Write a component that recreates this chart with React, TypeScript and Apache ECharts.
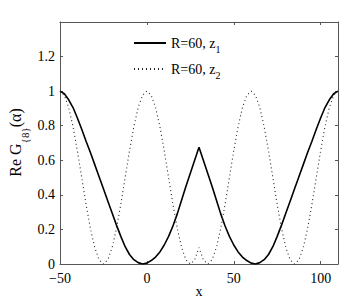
import React, { useEffect, useRef } from "react";
import * as echarts from "echarts";

const xTicks = [-50, 0, 50, 100];
const yTickLabels = ["0", "0.2", "0.4", "0.6", "0.8", "1", "1.2"];

const xs = [
  -50, -47.5, -45, -42.5, -40, -37.5, -35, -32.5, -30, -27.5, -25, -22.5, -20, -17.5, -15, -12.5, -10, -7.5, -5, -2.5,
  0, 2.5, 5, 7.5, 10, 12.5, 15, 17.5, 20, 22.5, 25, 27.5, 30, 32.5, 35, 37.5, 40, 42.5, 45, 47.5, 50, 52.5, 55,
  57.5, 60, 62.5, 65, 67.5, 70, 72.5, 75, 77.5, 80, 82.5, 85, 87.5, 90, 92.5, 95, 97.5, 100, 102.5, 105, 107.5, 110,
];

const z1 = [
  1.0, 0.985, 0.95, 0.905, 0.845, 0.78, 0.71, 0.645, 0.575, 0.505, 0.435, 0.365, 0.295, 0.225, 0.16, 0.1, 0.055, 0.025,
  0.008, 0.0, 0.005, 0.02, 0.04, 0.07, 0.11, 0.16, 0.22, 0.29, 0.37, 0.45, 0.525, 0.6, 0.675, 0.6, 0.525, 0.45, 0.37,
  0.29, 0.22, 0.16, 0.11, 0.07, 0.04, 0.02, 0.005, 0.0, 0.008, 0.025, 0.055, 0.1, 0.16, 0.225, 0.295, 0.365, 0.435,
  0.505, 0.575, 0.645, 0.71, 0.78, 0.845, 0.905, 0.95, 0.985, 1.0,
];

const z2 = [
  1.0, 0.976, 0.905, 0.794, 0.655, 0.5, 0.345, 0.206, 0.095, 0.024, 0.0, 0.024, 0.095, 0.206, 0.345, 0.5, 0.655, 0.794,
  0.905, 0.976, 1.0, 0.976, 0.905, 0.794, 0.655, 0.5, 0.345, 0.206, 0.095, 0.024, 0.0, 0.024, 0.095, 0.024, 0.0, 0.024,
  0.095, 0.206, 0.345, 0.5, 0.655, 0.794, 0.905, 0.976, 1.0, 0.976, 0.905, 0.794, 0.655, 0.5, 0.345, 0.206, 0.095,
  0.024, 0.0, 0.024, 0.095, 0.206, 0.345, 0.5, 0.655, 0.794, 0.905, 0.976, 1.0,
];

const seriesNames = ["z1", "z2"];
const legendMain = "R=60, z";
const legendSubs = ["1", "2"];

const yLabelMain = "Re G";
const yLabelSub = "{8}";
const yLabelTail = "(α)";

const FONT = '"Liberation Serif", "Times New Roman", serif';
const AX = "#555";

function measure(text: string, size: number): number {
  const c = document.createElement("canvas");
  const ctx = c.getContext("2d");
  if (!ctx) return text.length * size * 0.5;
  ctx.font = `${size}px ${FONT}`;
  return ctx.measureText(text).width;
}

export default function App() {
  const ref = useRef<HTMLDivElement>(null);
  useEffect(() => {
    if (!ref.current) return;
    const chart = echarts.init(ref.current, null, { renderer: "svg" });

    const mainSize = 16;
    const subSize = 11;
    const w1 = measure(yLabelMain, mainSize);
    const w2 = measure(yLabelSub, subSize);
    const w3 = measure(yLabelTail, mainSize);
    const W = w1 + w2 + w3;
    const x0 = -W / 2;

    const d1 = xs.map((x, i) => [x, z1[i]]);
    const d2 = xs.map((x, i) => [x, z2[i]]);

    const axisCommon = {
      type: "value" as const,
      axisLine: { show: true, onZero: false, lineStyle: { color: AX, width: 1 } },
      axisTick: { show: true, inside: true, length: 3, lineStyle: { color: AX } },
      splitLine: { show: false },
    };

    chart.setOption({
      animation: false,
      grid: { left: 60, right: 19, top: 22, bottom: 34, containLabel: false, outerBoundsMode: "none" },
      legend: {
        orient: "vertical",
        left: 133,
        top: 36,
        padding: 0,
        itemWidth: 32,
        itemHeight: 14,
        itemGap: 8,
        selectedMode: false,
        data: seriesNames,
        itemStyle: { color: "rgba(0,0,0,0)", borderWidth: 0, opacity: 0 },
        formatter: (name: string) => {
          const i = seriesNames.indexOf(name);
          return `{m|${legendMain}}{s|${legendSubs[i]}}`;
        },
        textStyle: {
          fontFamily: FONT,
          color: "#000",
          rich: {
            m: { fontSize: 14, fontFamily: FONT, color: "#000" },
            s: { fontSize: 10, fontFamily: FONT, color: "#000", padding: [12, 0, 0, 0] },
          },
        },
      },
      xAxis: [
        {
          ...axisCommon,
          position: "bottom",
          min: -50,
          max: 110,
          interval: 50,
          name: "x",
          nameLocation: "middle",
          nameGap: 20,
          nameMoveOverlap: false,
          nameTextStyle: { fontFamily: FONT, fontSize: 14, color: "#000" },
          axisLabel: {
            show: true,
            margin: 7,
            fontFamily: FONT,
            fontSize: 14,
            color: "#000",
            showMaxLabel: false,
            formatter: (v: number) => (xTicks.indexOf(v) >= 0 ? (v < 0 ? "\u2212" + Math.abs(v) : String(v)) : ""),
          },
        },
        {
          ...axisCommon,
          position: "top",
          min: -50,
          max: 110,
          interval: 50,
          axisLabel: { show: false },
        },
      ],
      yAxis: [
        {
          ...axisCommon,
          position: "left",
          min: 0,
          max: 1.4,
          interval: 0.2,
          axisLabel: {
            show: true,
            margin: 5,
            fontFamily: FONT,
            fontSize: 14,
            color: "#000",
            formatter: (v: number) => {
              const i = Math.round(v / 0.2);
              return yTickLabels[i] ?? "";
            },
          },
        },
        {
          ...axisCommon,
          position: "right",
          min: 0,
          max: 1.4,
          interval: 0.2,
          axisLabel: { show: false },
        },
      ],
      series: [
        {
          name: seriesNames[0],
          type: "line",
          data: d1,
          symbol: "none",
          showSymbol: false,
          lineStyle: { color: "#000", width: 1.6, type: "solid" },
          itemStyle: { color: "#000" },
        },
        {
          name: seriesNames[1],
          type: "line",
          data: d2,
          symbol: "none",
          showSymbol: false,
          smooth: false,
          lineStyle: { color: "#222", width: 1.1, type: [1, 3] },
          itemStyle: { color: "#222" },
        },
      ],
      graphic: [
        {
          type: "group",
          x: 15,
          y: 142.5,
          rotation: Math.PI / 2,
          children: [
            {
              type: "text",
              x: x0,
              y: 0,
              style: {
                text: yLabelMain,
                fontSize: mainSize,
                fontFamily: FONT,
                fill: "#000",
                align: "left",
                verticalAlign: "middle",
              },
            },
            {
              type: "text",
              x: x0 + w1,
              y: 10,
              style: {
                text: yLabelSub,
                fontSize: subSize,
                fontFamily: FONT,
                fill: "#000",
                align: "left",
                verticalAlign: "middle",
              },
            },
            {
              type: "text",
              x: x0 + w1 + w2,
              y: 0,
              style: {
                text: yLabelTail,
                fontSize: mainSize,
                fontFamily: FONT,
                fill: "#000",
                align: "left",
                verticalAlign: "middle",
              },
            },
          ],
        },
      ],
    });
    return () => chart.dispose();
  }, []);
  return <div ref={ref} style={{ position: "absolute", left: 0, top: 0, width: 357, height: 298 }} />;
}
